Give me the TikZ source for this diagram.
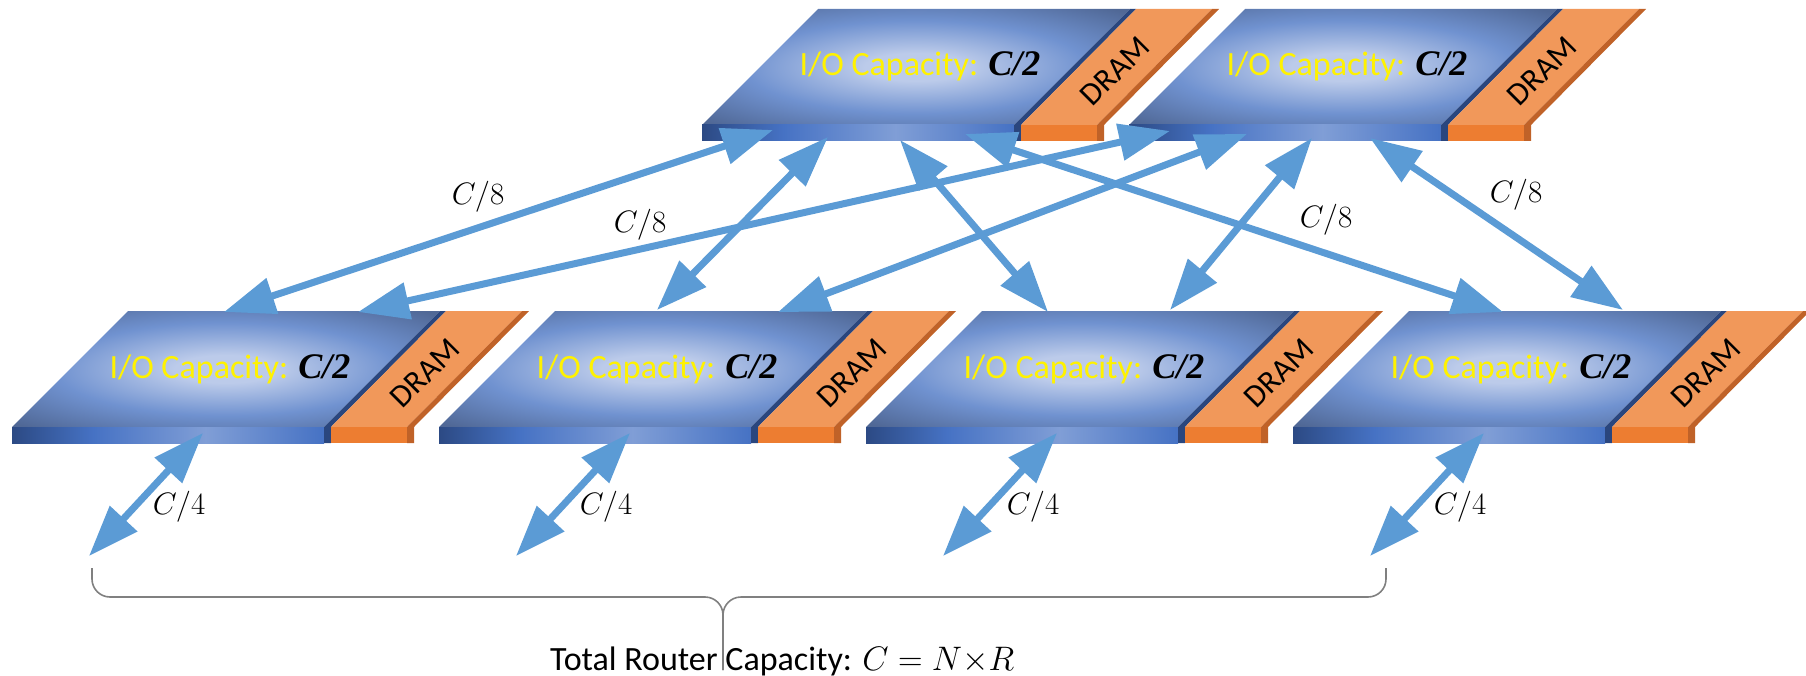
\documentclass[tikz,border=0pt]{standalone}
\usepackage{fix-cm}
\usepackage[no-math]{fontspec}
\setmainfont{Carlito}
\newfontfamily\capfont{Liberation Serif}
\usetikzlibrary{arrows.meta}

\definecolor{arrowblue}{RGB}{91,155,213}
\definecolor{facelight}{RGB}{188,203,234}
\definecolor{facemid}{RGB}{112,146,208}
\definecolor{facedark}{RGB}{80,104,150}
\definecolor{frontdark}{RGB}{44,74,132}
\definecolor{frontblue}{RGB}{70,114,196}
\definecolor{frontlight}{RGB}{128,158,214}
\definecolor{sideblue}{RGB}{42,70,126}
\definecolor{dramtop}{RGB}{241,152,90}
\definecolor{dramfront}{RGB}{237,125,49}
\definecolor{dramside}{RGB}{192,98,40}
\definecolor{bracegray}{RGB}{128,128,128}

\pgfdeclareradialshading{facesh}{\pgfpoint{0bp}{0bp}}{color(0bp)=(facelight); color(6bp)=(facelight); color(20bp)=(facemid); color(34bp)=(facedark); color(50bp)=(facedark)}
\pgfdeclarehorizontalshading{frontsh}{100bp}{color(0bp)=(frontdark); color(25bp)=(frontdark); color(38bp)=(frontblue); color(56bp)=(frontlight); color(75bp)=(frontblue); color(100bp)=(frontblue)}

\begin{document}
\begin{tikzpicture}[x=1pt, y=-1pt,
		chan/.style={arrowblue, line width=7pt, >={Triangle[length=51pt,width=36pt]}, <->},
		iolabel/.style={text=yellow, font=\fontsize{34}{40}\selectfont, anchor=base, inner sep=0pt},
		dramlabel/.style={rotate=45, font=\fontsize{32}{38}\selectfont, inner sep=0pt},
		ratelabel/.style={font=\fontsize{31}{36}\selectfont, inner sep=0pt},
		sumlabel/.style={font=\fontsize{34}{40}\selectfont, anchor=base west, inner sep=0pt},
		braceline/.style={bracegray, line width=1.6pt, rounded corners=18pt}]
	\useasboundingbox (0,0) rectangle (1806,676);
	% linecards: blue board, DRAM strip beside it
	\foreach \n/\x/\y in {b1/12/427, b2/439/427, b3/866/427, b4/1293/427, t1/702/125, t2/1129/125} {
		\coordinate (\n) at (\x,\y);
		\begin{scope}[shift={(\x,\y)}]
			\shade[shading=facesh] (0,0) -- (312,0) -- (428,-116) -- (116,-116) -- cycle;
			\shade[shading=frontsh] (0,0) rectangle (312,16);
			\fill[sideblue] (312,16) -- (312,0) -- (428,-116) -- (434,-116) -- (319,0) -- (319,16) -- cycle;
			\fill[dramtop] (319,0) -- (395,0) -- (510,-116) -- (434,-116) -- cycle;
			\fill[dramfront] (319,0) rectangle (395,16);
			\fill[dramside] (395,16) -- (395,0) -- (510,-116) -- (517,-116) -- (402,0) -- (402,16) -- cycle;
			\node[iolabel] (\n-io) at (218,-49) {I/O Capacity: {\color{black}\capfont\fontsize{36}{40}\selectfont\bfseries\itshape C/2}};
			\node[dramlabel] (\n-dram) at (413,-54) {DRAM};
		\end{scope}
	};
	
	% links between the linecards
	\draw[chan] ([shift={(212,-115)}]b1) -- ([shift={(71,5)}]t1);
	\draw[chan] ([shift={(346,-115)}]b1) -- ([shift={(41,6)}]t2);
	\draw[chan] ([shift={(218,-117)}]b2) -- ([shift={(126,12)}]t1);
	\draw[chan] ([shift={(339,-115)}]b2) -- ([shift={(118,9)}]t2);
	\draw[chan] ([shift={(198,15)}]t1) -- ([shift={(182,-115)}]b3);
	\draw[chan] ([shift={(183,13)}]t2) -- ([shift={(304,-117)}]b3);
	\draw[chan] ([shift={(263,9)}]t1) -- ([shift={(210,-115)}]b4);
	\draw[chan] ([shift={(241,13)}]t2) -- ([shift={(330,-117)}]b4);
	\node[ratelabel] (r1) at (478,197) {$C/8$};
	\node[ratelabel] (r2) at (640,225) {$C/8$};
	\node[ratelabel] (r3) at (1326,220) {$C/8$};
	\node[ratelabel] (r4) at (1516,195) {$C/8$};
	
	% external ports
	\foreach \n in {b1,b2,b3,b4} {
		\coordinate (\n-out) at ([shift={(77,129)}]\n);
		\draw[chan] ([shift={(191,6)}]\n) -- (\n-out);
		\node[ratelabel] (\n-rate) at ([shift={(167,80)}]\n) {$C/4$};
	};
	
	% brace
	\coordinate (bl) at (92,568);
	\coordinate (br) at (1386,568);
	\coordinate (tip) at (723,670);
	\draw[braceline] (bl) -- (92,597) -- (723,597) -- (tip);
	\draw[braceline] (br) -- (1386,597) -- (723,597) -- (tip);
	\node[sumlabel] (total) at (550,670) {Total Router Capacity: $C = N{\times}R$};
\end{tikzpicture}
\end{document}
